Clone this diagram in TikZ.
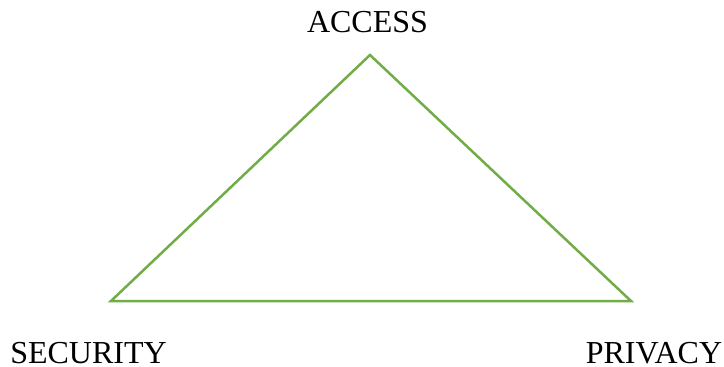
\documentclass[tikz,border=0pt]{standalone}
\usepackage{fontspec}
\setmainfont{Liberation Serif}
\definecolor{tgreen}{HTML}{70AD47}
\begin{document}
\begin{tikzpicture}[x=1pt,y=-1pt,
  lbl/.style={anchor=base,inner sep=0pt,font=\fontsize{32}{38}\selectfont},
  edge/.style={draw=tgreen,line width=2.5pt,line join=miter}]
\useasboundingbox (0,0) rectangle (724,367);
\coordinate (top) at (370,55);
\coordinate (left) at (111,301);
\coordinate (right) at (631,301);
\draw[edge] (top) -- (right) -- (left) -- cycle;
\node[lbl] (access) at (367.5,32) {ACCESS};
\node[lbl] (security) at (88.5,363) {SECURITY};
\node[lbl] (privacy) at (654,363) {PRIVACY};
\end{tikzpicture}
\end{document}
